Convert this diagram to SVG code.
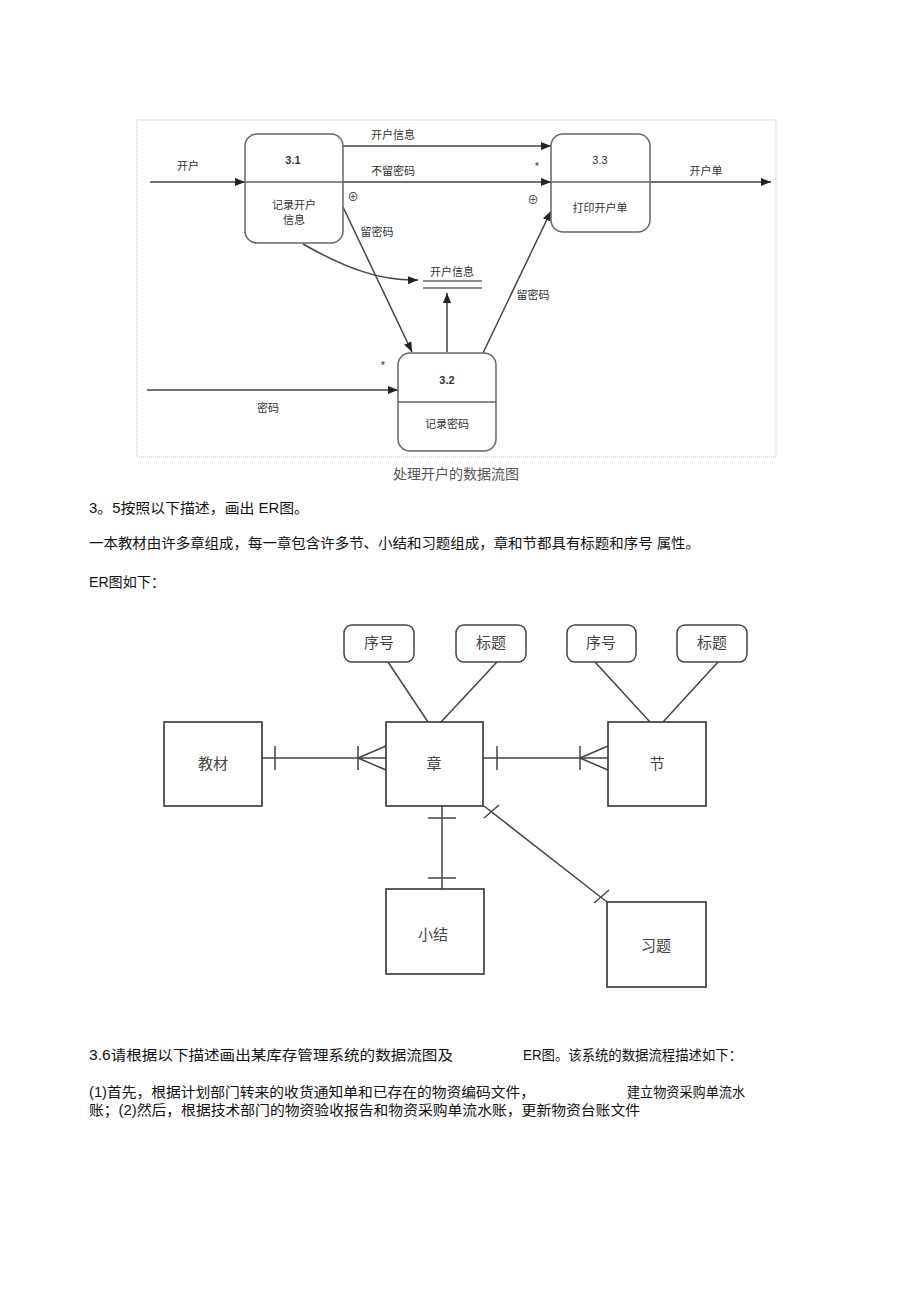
<svg xmlns="http://www.w3.org/2000/svg" width="920" height="1303" viewBox="0 0 920 1303">
<style>
.frame{fill:none;stroke:#bbb;stroke-width:1;stroke-dasharray:1 1}
.proc{fill:#fff;stroke:#666;stroke-width:1.5}
.div{stroke:#666;stroke-width:1.5}
.flow{fill:none;stroke:#444;stroke-width:1.5}
.t{font-family:"Liberation Sans","Noto Sans CJK SC",sans-serif;font-size:11px;fill:#333}
.tc{text-anchor:middle}
.body{font-family:"Liberation Sans","Noto Sans CJK SC",sans-serif;font-size:14px;fill:#111}
.cap{font-family:"Liberation Serif","Noto Sans CJK SC",serif;font-size:14px;fill:#555;text-anchor:middle}
.ent{fill:#fff;stroke:#333;stroke-width:1.6}
.attr{fill:#fff;stroke:#444;stroke-width:1.5}
.rel{fill:none;stroke:#444;stroke-width:1.5}
.et{font-family:"Liberation Serif","Noto Sans CJK SC",serif;font-size:15px;fill:#444;text-anchor:middle}
</style>
<defs>
<marker id="ah" viewBox="0 0 10 10" refX="10" refY="5" markerWidth="10" markerHeight="10" markerUnits="userSpaceOnUse" orient="auto">
<path d="M0,1 L10,5 L0,9 z" fill="#222"/>
</marker>
</defs>
<rect width="920" height="1303" fill="#fff"/>
<rect class="frame" x="137" y="120" width="639" height="337"/>

<g id="dfd-connectors">
<line class="flow" x1="150" y1="182" x2="245" y2="182" marker-end="url(#ah)"/>
<line class="flow" x1="343" y1="146" x2="551" y2="146" marker-end="url(#ah)"/>
<line class="flow" x1="343" y1="182" x2="551" y2="182" marker-end="url(#ah)"/>
<line class="flow" x1="650" y1="182" x2="771" y2="182" marker-end="url(#ah)"/>
<line class="flow" x1="343" y1="207" x2="412" y2="352" marker-end="url(#ah)"/>
<line class="flow" x1="483" y1="353" x2="551" y2="211" marker-end="url(#ah)"/>
<line class="flow" x1="447" y1="352" x2="447" y2="293" marker-end="url(#ah)"/>
<path class="flow" d="M303,244 C345,268 380,281 418,280" marker-end="url(#ah)"/>
<line class="flow" x1="147" y1="390" x2="398" y2="390" marker-end="url(#ah)"/>
<text class="t tc" x="188" y="170">开户</text>
<text class="t tc" x="393" y="139">开户信息</text>
<text class="t tc" x="393" y="175">不留密码</text>
<text class="t tc" x="706" y="175">开户单</text>
<text class="t tc" x="377" y="236">留密码</text>
<text class="t tc" x="533" y="299">留密码</text>
<text class="t tc" x="268" y="412">密码</text>
<text class="t tc" x="537" y="170" font-size="9">*</text>
<text class="t tc" x="533" y="204" font-size="10">⊕</text>
<text class="t tc" x="353" y="201" font-size="10">⊕</text>
<text class="t tc" x="383" y="369" font-size="9">*</text>
</g>

<g id="p31">
<rect class="proc" x="245" y="134" width="98" height="109" rx="12"/>
<line class="div" x1="245" y1="182" x2="343" y2="182"/>
<text class="t tc" x="293" y="164" font-weight="bold">3.1</text>
<text class="t tc" x="294" y="209">记录开户</text>
<text class="t tc" x="294" y="224">信息</text>
</g>
<g id="p33">
<rect class="proc" x="551" y="134" width="99" height="98" rx="12"/>
<line class="div" x1="551" y1="182" x2="650" y2="182"/>
<text class="t tc" x="600" y="164">3.3</text>
<text class="t tc" x="600" y="212">打印开户单</text>
</g>
<g id="p32">
<rect class="proc" x="398" y="353" width="98" height="98" rx="12"/>
<line class="div" x1="398" y1="402" x2="496" y2="402"/>
<text class="t tc" x="447" y="384" font-weight="bold">3.2</text>
<text class="t tc" x="447" y="428">记录密码</text>
</g>
<g id="store">
<line class="div" x1="423" y1="281" x2="482" y2="281"/>
<line class="div" x1="423" y1="288" x2="482" y2="288"/>
<text class="t tc" x="452" y="276">开户信息</text>
</g>

<text class="cap" x="456" y="479">处理开户的数据流图</text>

<text class="body" x="89" y="513" textLength="220" lengthAdjust="spacingAndGlyphs">3。5按照以下描述，画出  ER图。</text>
<text class="body" x="89" y="548" textLength="611" lengthAdjust="spacingAndGlyphs">一本教材由许多章组成，每一章包含许多节、小结和习题组成，章和节都具有标题和序号  属性。</text>
<text class="body" x="89" y="587" textLength="76" lengthAdjust="spacingAndGlyphs">ER图如下：</text>

<g id="er-connectors">
<line class="rel" x1="388" y1="662" x2="428" y2="722"/>
<line class="rel" x1="497" y1="662" x2="441" y2="722"/>
<line class="rel" x1="595" y1="662" x2="650" y2="722"/>
<line class="rel" x1="718" y1="662" x2="663" y2="722"/>
<line class="rel" x1="262" y1="758" x2="386" y2="758"/>
<line class="rel" x1="275" y1="746" x2="275" y2="770"/>
<line class="rel" x1="358" y1="746" x2="358" y2="770"/>
<line class="rel" x1="358" y1="758" x2="386" y2="746"/>
<line class="rel" x1="358" y1="758" x2="386" y2="770"/>
<line class="rel" x1="483" y1="758" x2="608" y2="758"/>
<line class="rel" x1="497" y1="746" x2="497" y2="770"/>
<line class="rel" x1="580" y1="746" x2="580" y2="770"/>
<line class="rel" x1="580" y1="758" x2="608" y2="746"/>
<line class="rel" x1="580" y1="758" x2="608" y2="770"/>
<line class="rel" x1="442" y1="806" x2="442" y2="889"/>
<line class="rel" x1="428" y1="818" x2="456" y2="818"/>
<line class="rel" x1="428" y1="878" x2="456" y2="878"/>
<line class="rel" x1="484" y1="806" x2="607" y2="902"/>
<line class="rel" x1="484" y1="818" x2="499" y2="805"/>
<line class="rel" x1="594" y1="903" x2="609" y2="890"/>
</g>

<g id="a-xh1"><rect class="attr" x="344" y="625" width="70" height="37" rx="8"/><text class="et" x="379" y="648" font-size="13">序号</text></g>
<g id="a-bt1"><rect class="attr" x="456" y="625" width="70" height="37" rx="8"/><text class="et" x="491" y="648" font-size="13">标题</text></g>
<g id="a-xh2"><rect class="attr" x="567" y="625" width="69" height="37" rx="8"/><text class="et" x="601" y="648" font-size="13">序号</text></g>
<g id="a-bt2"><rect class="attr" x="677" y="625" width="70" height="37" rx="8"/><text class="et" x="712" y="648" font-size="13">标题</text></g>

<g id="e-jc"><rect class="ent" x="164" y="722" width="98" height="84"/><text class="et" x="213" y="769">教材</text></g>
<g id="e-zh"><rect class="ent" x="386" y="722" width="97" height="84"/><text class="et" x="434" y="769">章</text></g>
<g id="e-jie"><rect class="ent" x="608" y="722" width="98" height="84"/><text class="et" x="657" y="769">节</text></g>
<g id="e-xj"><rect class="ent" x="386" y="889" width="98" height="85"/><text class="et" x="433" y="940">小结</text></g>
<g id="e-xt"><rect class="ent" x="607" y="902" width="99" height="85"/><text class="et" x="656" y="951">习题</text></g>

<text class="body" x="89" y="1060" textLength="364" lengthAdjust="spacingAndGlyphs">3.6请根据以下描述画出某库存管理系统的数据流图及</text>
<text class="body" x="523" y="1060" textLength="219" lengthAdjust="spacingAndGlyphs">ER图。该系统的数据流程描述如下：</text>
<text class="body" x="89" y="1097" textLength="446" lengthAdjust="spacingAndGlyphs">(1)首先，根据计划部门转来的收货通知单和已存在的物资编码文件，</text>
<text class="body" x="627" y="1097" textLength="118" lengthAdjust="spacingAndGlyphs">建立物资采购单流水</text>
<text class="body" x="89" y="1115" textLength="551" lengthAdjust="spacingAndGlyphs">账；(2)然后，根据技术部门的物资验收报告和物资采购单流水账，更新物资台账文件</text>
</svg>
